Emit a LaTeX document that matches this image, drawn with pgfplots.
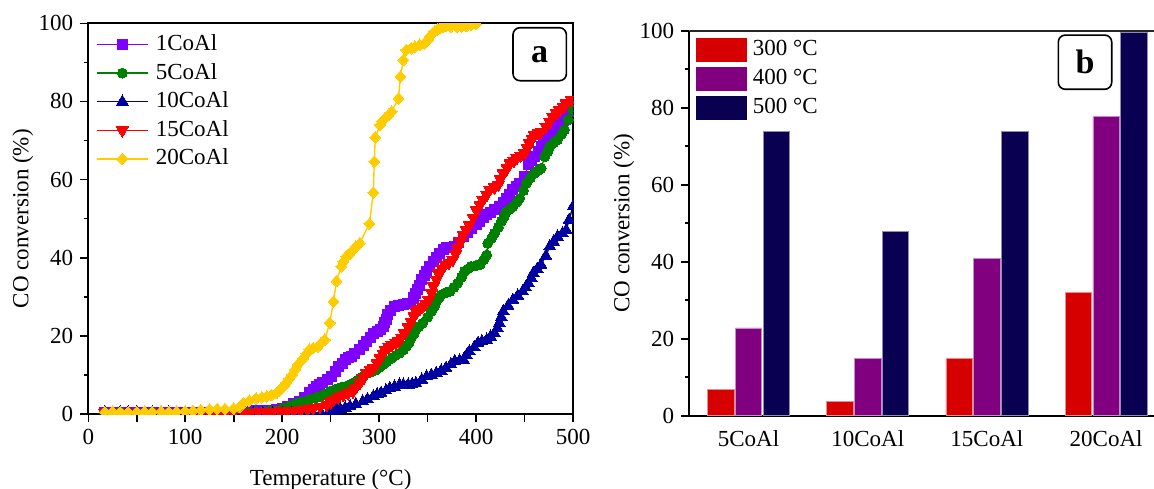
\documentclass[border=0pt]{standalone}
\usepackage{fontspec}
\setmainfont{Liberation Serif}
\usepackage{pgfplots}
\usepackage{pgfplotstable}
\pgfplotsset{compat=1.18}
\definecolor{cA}{RGB}{128,0,255}
\definecolor{cB}{RGB}{0,128,0}
\definecolor{cC}{RGB}{0,0,160}
\definecolor{cD}{RGB}{255,0,0}
\definecolor{cE}{RGB}{255,204,0}
\definecolor{bR}{RGB}{214,0,0}
\definecolor{bP}{RGB}{128,0,128}
\definecolor{bN}{RGB}{10,0,82}
\newcommand{\fs}{\fontsize{11.5}{13}\selectfont}

\pgfplotstableread{
T y
17 0.5
25 0.4
33 0.3
41 0.4
50 0.3
58 0.4
66 0.3
75 0.4
83 0.5
91 0.4
100 0.3
108 0.3
116 0.4
125 0.3
133 0.4
141 0.3
150 0.4
158 0.5
165 0.7
172 0.8
180 0.9
187 1.0
194 1.1
200 1.5
206 2.0
212 2.6
218 3.2
223 4.3
228 5.4
232 6.2
235 7.0
239 7.5
242 8.0
247 8.8
251 9.6
255 11.0
258 12.2
262 13.0
265 13.9
268 14.4
271 14.8
275 15.6
280 16.5
284 17.5
287 18.6
291 19.6
294 20.7
298 21.2
301 21.6
304 22.5
306 23.3
308 24.3
309 25.4
312 26.5
316 27.5
320 27.8
325 28.0
329 28.2
332 28.4
335 29.7
338 30.8
340 31.8
342 33.0
344 34.4
347 35.5
349 36.5
352 37.8
356 39.0
359 40.1
362 41.2
366 42.0
369 42.5
373 42.7
378 42.9
382 44.0
387 45.4
391 46.5
395 47.6
400 48.5
404 49.3
408 50.2
411 51.0
415 51.7
419 52.3
424 53.1
428 54.2
431 55.2
435 56.3
438 57.4
442 58.3
445 59.1
450 60.8
454 63.8
457 64.8
460 65.9
464 67.2
467 68.5
470 69.3
474 70.2
479 72.3
483 73.2
486 74.0
490 75.0
493 76.1
497 77.4
500 78.7
}\tA

\pgfplotstableread{
T y
17 0.3
25 0.3
33 0.4
41 0.3
50 0.3
58 0.3
66 0.4
75 0.3
83 0.3
91 0.3
100 0.4
108 0.3
116 0.3
125 0.3
133 0.3
141 0.3
150 0.3
160 0.3
165 0.4
172 0.5
180 0.6
187 0.7
194 0.9
201 1.5
208 2.1
215 2.8
221 3.2
228 3.7
234 4.1
239 4.5
244 5.1
249 5.8
254 6.2
258 6.6
262 6.9
266 7.1
270 7.5
273 7.9
277 8.5
280 9.2
284 9.8
289 10.5
293 10.9
297 11.3
300 11.9
304 12.6
308 13.4
313 14.3
317 15.0
321 15.6
325 16.4
328 17.3
331 18.3
333 19.4
336 20.5
338 21.6
341 22.4
345 23.3
350 24.8
354 26.3
357 27.6
359 28.8
362 29.7
364 30.5
368 31.0
373 31.4
377 32.4
381 33.5
385 35.0
388 36.5
392 37.2
395 37.8
400 38.0
404 38.2
408 39.5
411 40.7
412 43.7
416 45.0
419 46.3
423 47.8
426 49.3
429 50.6
431 51.8
435 52.5
438 53.1
442 54.2
445 55.2
449 57.2
452 59.1
456 60.4
460 61.6
464 62.3
467 62.9
471 65.9
474 67.2
476 68.5
480 69.4
484 70.2
488 71.5
491 72.7
495 75.3
500 77.8
}\tB

\pgfplotstableread{
T y
17 0.5
25 0.4
33 0.5
41 0.4
50 0.5
58 0.4
66 0.4
75 0.5
83 0.4
91 0.4
100 0.3
108 0.4
116 0.3
125 0.3
133 0.3
141 0.3
150 0.3
160 0.2
170 0.2
180 0.2
190 0.2
200 0.2
210 0.2
220 0.3
230 0.3
240 0.3
248 0.4
253 0.6
256 1.1
260 1.3
265 1.6
270 2.0
276 2.5
283 3.2
288 3.8
294 4.5
298 5.0
302 5.4
307 6.0
311 6.6
316 7.0
321 7.5
325 7.5
330 7.5
334 7.7
338 7.9
344 8.8
349 9.6
354 10.0
359 10.5
364 11.1
369 11.8
374 12.7
378 13.5
383 13.7
387 13.9
390 15.0
393 16.0
398 17.1
402 18.2
406 18.6
411 19.0
415 19.8
419 20.7
422 22.0
424 23.3
426 24.8
428 26.3
433 27.7
438 29.2
443 30.3
448 31.4
451 32.4
454 33.5
457 34.8
459 36.1
463 37.1
467 38.2
472 40.5
476 42.9
480 44.1
484 45.4
489 46.2
493 47.1
496 49.7
500 53.1
}\tC

\pgfplotstableread{
T y
17 0.3
25 0.3
33 0.3
41 0.4
50 0.3
58 0.3
66 0.3
75 0.3
83 0.3
91 0.3
100 0.3
108 0.3
116 0.3
125 0.3
133 0.3
141 0.3
150 0.3
160 0.3
167 0.4
175 0.5
183 0.5
190 0.6
198 0.7
205 0.8
212 0.9
219 1.0
226 1.2
232 1.5
239 1.9
246 2.4
250 3.0
253 3.7
258 4.3
263 4.9
268 5.3
273 5.8
276 6.8
280 7.9
284 9.2
287 10.5
291 11.2
294 11.8
298 13.0
301 14.3
304 15.4
306 16.5
310 17.1
313 17.7
317 18.2
320 18.6
323 19.6
326 20.7
330 22.2
333 23.7
336 25.0
338 26.3
342 26.9
345 27.5
348 28.3
351 29.2
354 31.0
356 32.7
359 34.4
361 36.1
365 37.1
368 38.2
372 38.8
376 39.5
379 41.0
381 42.5
384 44.2
387 45.9
390 47.1
393 48.4
397 50.3
400 52.3
404 53.5
407 54.8
411 56.1
414 57.4
419 58.0
423 58.7
425 60.1
428 61.6
432 62.9
435 64.2
439 64.8
442 65.5
446 66.1
450 66.8
453 68.0
455 69.3
458 70.4
460 71.5
464 71.9
467 72.3
472 73.6
476 74.8
479 76.1
483 77.0
486 77.8
490 78.6
493 79.5
498 80.4
}\tD

\pgfplotstableread{
T y
17 0.5
25 0.6
33 0.5
41 0.4
50 0.5
58 0.6
66 0.5
75 0.6
83 0.5
91 0.6
100 0.7
108 0.8
116 1.0
125 1.2
133 1.3
141 1.3
150 1.4
156 1.8
160 2.8
166 3.4
173 4.0
179 4.3
184 4.5
189 4.9
194 5.4
197 6.0
199 6.6
202 7.3
204 8.0
207 9.0
210 10.0
213 11.3
216 12.6
219 13.5
222 14.3
225 15.4
228 16.5
232 16.9
237 17.3
240 18.1
244 19.0
249 23.3
253 28.8
256 34.0
261 37.8
263 39.0
266 40.3
270 41.1
273 42.0
276 42.8
280 43.7
290 48.7
294 56.7
295 64.6
296 70.8
301 74.0
303 74.9
306 75.7
310 76.6
313 77.4
320 80.8
322 86.4
325 90.6
328 93.2
333 93.6
337 94.0
342 94.5
347 94.9
350 95.7
352 96.6
355 97.3
357 97.9
360 98.4
363 98.8
366 99.1
369 99.3
374 99.2
380 99.1
385 99.2
390 99.3
395 99.6
400 99.8
}\tE

\pgfplotstableread{
x r p n
0 6.9 22.8 73.8
1 3.8 14.8 47.8
2 14.8 40.8 73.8
3 32.0 77.7 99.5
}\tBar

\begin{document}
\begin{tikzpicture}
\pgfplotsset{
  every tick label/.append style={font=\fs},
  /pgf/number format/assume math mode=true,
  label style={font=\fs},
  tick align=outside,
  major tick length=4pt,
  minor tick length=2pt,
  every tick/.style={black, line width=0.8pt},
}
% ---------------- panel a
\begin{axis}[
  at={(44.15pt,37pt)}, anchor=south west,
  scale only axis, width=242.35pt, height=195.35pt,
  xmin=0, xmax=500, ymin=0, ymax=100,
  xtick={0,50,...,500},
  xticklabels={0,,100,,200,,300,,400,,500},
  ytick={0,20,...,100}, minor ytick={10,30,...,90},
  tick pos=left,
  axis line style={line width=0.9pt},
  clip marker paths=true,
  xlabel={Temperature (\textdegree C)},
  ylabel={CO conversion (\%)},
  xlabel style={at={(axis description cs:0.5,-0.184)}, anchor=base},
  ylabel style={at={(axis description cs:-0.1349,0.5)}, anchor=center},
  legend cell align=left,
  legend style={draw=none, fill=none, at={(rel axis cs:0.0153,0.975)}, anchor=north west,
    inner sep=0pt, row sep=3.3pt, column sep=3.65pt,
    nodes={inner sep=0pt, text height=8.5pt, text depth=2.5pt, font=\fs}},
  legend image code/.code={\draw[mark repeat=2,mark phase=2,#1] plot coordinates {(0pt,0pt) (12.75pt,0pt) (25.5pt,0pt)};},
  every axis plot/.append style={line width=0.7pt},
]
\addplot[cA, mark=square*, mark size=2.5pt, mark options={solid, line width=0pt}] table[x=T,y=y] {\tA};
\addlegendentry{1CoAl}
\addplot[cB, mark=*, mark size=2.5pt, mark options={solid, line width=0pt}] table[x=T,y=y] {\tB};
\addlegendentry{5CoAl}
\addplot[cC, mark=triangle*, mark size=3.4pt, mark options={solid, line width=0pt}] table[x=T,y=y] {\tC};
\addlegendentry{10CoAl}
\addplot[cD, mark=triangle*, mark size=3.4pt, mark options={solid, line width=0pt, rotate=180}] table[x=T,y=y] {\tD};
\addlegendentry{15CoAl}
\addplot[cE, mark=diamond*, mark size=2.9pt, mark options={solid, line width=0pt, xscale=1.25}] table[x=T,y=y] {\tE};
\addlegendentry{20CoAl}
\node[draw, rounded corners=3.5pt, line width=0.8pt, minimum width=26.7pt, minimum height=26.5pt,
  inner sep=0pt, font=\fontsize{17}{17}\selectfont\bfseries] at (rel axis cs:0.9313,0.9209) {a};
\end{axis}
% ---------------- panel b
\begin{axis}[
  at={(344.65pt,36.15pt)}, anchor=south west,
  scale only axis, width=232.35pt, height=192.5pt,
  xmin=-0.497, xmax=3.402, ymin=0, ymax=100,
  axis x line*=bottom, axis y line*=left,
  x axis line style={line width=1.1pt},
  y axis line style={line width=0.9pt},
  xtick=data, xticklabels={5CoAl,10CoAl,15CoAl,20CoAl},
  x tick style={draw=none},
  ytick={0,20,...,100}, minor ytick={10,30,...,90},
  ylabel={CO conversion (\%)},
  ylabel style={at={(axis description cs:-0.1407,0.5)}, anchor=center},
  ybar=0.65pt, bar width=13.25pt,
  legend cell align=left,
  legend style={draw=none, fill=none, at={(rel axis cs:0.0138,0.982)}, anchor=north west,
    inner sep=0pt, row sep=2.65pt, column sep=3pt,
    nodes={inner sep=0pt, text height=8.5pt, text depth=2.5pt, font=\fs}},
  mybar/.style={fill=#1, draw=#1!45!white, line width=0.35pt,
    legend image code/.code={\fill[#1] (0pt,-5.75pt) rectangle (25pt,5.75pt);}},
]
\addplot[mybar=bR] table[x=x,y=r] {\tBar};
\addlegendentry{300 \textdegree C}
\addplot[mybar=bP] table[x=x,y=p] {\tBar};
\addlegendentry{400 \textdegree C}
\addplot[mybar=bN] table[x=x,y=n] {\tBar};
\addlegendentry{500 \textdegree C}
\draw[line width=0.9pt, black!85] (rel axis cs:0,1) -- (rel axis cs:1,1);
\node[draw, rounded corners=3.5pt, line width=0.8pt, minimum width=26.7pt, minimum height=27.1pt,
  inner sep=0pt, font=\fontsize{17}{17}\selectfont\bfseries] at (rel axis cs:0.8515,0.9182) {b};
\end{axis}
\pgfresetboundingbox
\useasboundingbox (0,0) rectangle (577pt,244pt);
\end{tikzpicture}
\end{document}
